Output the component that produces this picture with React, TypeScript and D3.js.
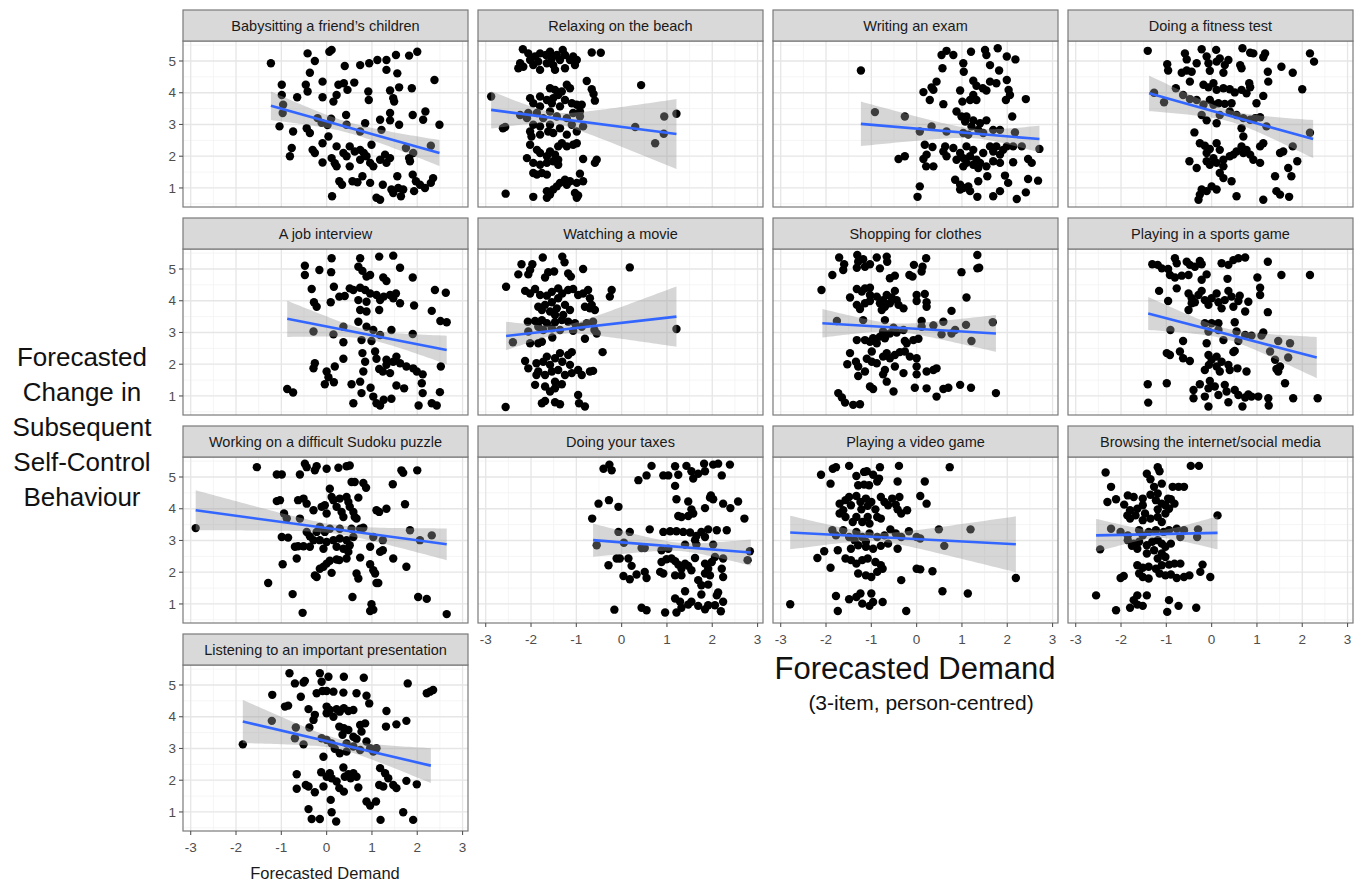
import React from "react"
import * as d3 from "d3"

const width = 1361
const height = 884

const titles = [
  "Babysitting a friend’s children",
  "Relaxing on the beach",
  "Writing an exam",
  "Doing a fitness test",
  "A job interview",
  "Watching a movie",
  "Shopping for clothes",
  "Playing in a sports game",
  "Working on a difficult Sudoku puzzle",
  "Doing your taxes",
  "Playing a video game",
  "Browsing the internet/social media",
  "Listening to an important presentation",
]

type Pt = [number, number]

const babysitting: Pt[] = [[-1.23,4.93],[-0.99,4.25],[-0.99,3.93],[-0.96,3.62],[-0.97,3.36],[-1.04,2.94],[-0.74,2.78],[-0.65,3.86],[-0.77,2.26],[-0.81,2.0],[-0.46,4.25],[-0.42,4.04],[-0.37,4.63],[-0.42,5.24],[-0.26,5.0],[-0.09,4.35],[-0.09,3.86],[-0.44,2.88],[-0.37,2.73],[-0.11,3.05],[-0.2,3.2],[0.02,2.98],[0.1,3.18],[-0.31,2.2],[-0.26,2.1],[-0.09,1.8],[-0.09,2.41],[0.04,2.62],[0.06,5.29],[0.11,5.35],[0.15,3.72],[0.22,3.93],[0.26,4.25],[0.38,4.3],[0.46,4.09],[0.61,4.32],[0.4,4.84],[0.74,4.87],[0.94,4.93],[1.12,5.03],[1.32,5.03],[1.53,5.19],[1.82,5.17],[2.0,5.29],[1.32,4.72],[1.56,4.61],[1.4,4.07],[1.6,4.17],[1.47,3.83],[1.49,3.72],[1.88,4.14],[0.92,4.04],[0.93,3.77],[0.43,3.3],[0.44,2.99],[0.74,2.78],[0.85,3.04],[1.18,3.15],[1.21,2.83],[1.4,3.36],[1.4,3.13],[1.6,2.99],[1.9,3.3],[2.13,3.15],[2.18,3.41],[2.49,2.99],[2.38,4.4],[2.3,2.33],[1.75,2.26],[1.91,2.1],[1.82,1.94],[1.84,1.84],[0.99,2.36],[0.22,2.31],[0.37,2.1],[0.44,2.0],[0.51,2.31],[0.62,2.15],[0.74,2.2],[0.82,2.1],[0.74,1.89],[0.88,2.0],[0.96,1.79],[1.03,1.68],[1.18,1.89],[1.29,2.05],[1.4,1.94],[1.32,1.79],[0.11,1.94],[0.18,1.78],[0.22,1.68],[0.51,1.68],[0.28,1.21],[0.34,1.1],[0.57,1.21],[0.68,1.18],[0.79,1.37],[0.96,1.16],[1.24,1.1],[1.43,0.95],[1.47,0.84],[1.58,1.0],[1.69,0.95],[1.64,0.74],[1.56,1.37],[1.9,1.42],[1.97,1.21],[2.06,1.1],[2.17,1.0],[1.93,0.9],[2.35,1.31],[2.3,1.16],[0.12,0.74],[1.1,0.69],[1.18,0.63]]

const beach: Pt[] = [[-2.24,4.93],[-2.28,4.77],[-2.17,4.82],[-2.02,5.03],[-2.06,5.24],[-1.91,5.14],[-1.95,4.87],[-1.80,4.72],[-1.84,4.98],[-1.67,5.19],[-1.65,4.93],[-1.54,5.08],[-1.51,4.87],[-1.43,5.19],[-1.36,5.03],[-1.30,5.35],[-1.25,5.19],[-1.25,4.77],[-1.14,5.03],[-1.07,5.14],[-1.03,4.87],[-0.99,5.03],[-1.47,4.72],[-1.58,5.29],[-1.80,5.24],[-2.88,3.88],[-2.57,2.92],[-2.62,2.88],[-2.56,0.82],[-2.18,5.37],[-0.66,5.27],[-0.46,5.26],[0.43,4.24],[-0.77,4.37],[-0.66,4.11],[-0.62,3.96],[-0.59,3.75],[-1.58,4.14],[-1.47,4.09],[-1.40,3.93],[-1.32,4.04],[-1.21,4.25],[-1.14,4.14],[-1.51,3.83],[-1.65,3.77],[-1.80,3.88],[-2.02,3.83],[-1.95,3.67],[-1.80,3.57],[-1.54,3.67],[-1.36,3.57],[-1.25,3.77],[-1.10,3.67],[-0.99,3.62],[-0.88,3.62],[-0.92,3.41],[-1.07,3.36],[-1.21,3.2],[-1.43,3.25],[-1.58,3.41],[-1.73,3.2],[-1.87,3.36],[-2.06,3.36],[-2.24,3.3],[-2.09,3.2],[-0.92,3.25],[-0.85,2.94],[-0.99,2.78],[-1.10,2.99],[-1.21,2.68],[-1.36,2.88],[-1.58,2.99],[-1.80,2.94],[-1.95,2.99],[-2.02,2.78],[-1.99,2.62],[-1.80,2.68],[-1.62,2.78],[-1.51,2.73],[-1.32,2.41],[-1.21,2.31],[-1.07,2.36],[-0.99,2.41],[-1.40,2.31],[-2.02,2.36],[-1.87,2.2],[-1.80,2.1],[-1.65,2.0],[-1.58,2.15],[-1.47,2.05],[-1.40,1.89],[-2.09,1.94],[-1.95,1.79],[-1.80,1.73],[-1.65,1.79],[-1.51,1.84],[-1.40,1.73],[-0.85,1.91],[-0.55,1.89],[-0.59,1.79],[0.94,3.25],[0.93,2.71],[0.74,2.41],[0.30,2.92],[1.21,3.34],[-1.95,1.47],[-1.87,1.42],[-1.76,1.47],[-1.65,1.42],[-0.92,1.45],[-0.85,1.21],[-0.99,1.16],[-1.14,1.21],[-1.25,1.26],[-1.36,1.16],[-1.43,1.05],[-1.51,0.95],[-1.65,0.9],[-1.58,0.79],[-1.65,0.69],[-1.95,0.72],[-1.21,1.1],[-1.03,0.84],[-0.99,0.69],[-0.96,0.76]]

const exam: Pt[] = [[-1.23,4.70],[-0.92,3.39],[-0.26,3.25],[-0.40,1.91],[-0.26,2.0],[0.07,1.05],[0.02,0.72],[0.15,4.02],[0.29,3.77],[0.18,2.36],[0.21,1.68],[0.35,2.29],[0.22,2.05],[0.15,1.91],[0.37,1.68],[0.33,4.17],[0.44,4.35],[0.37,4.09],[0.55,5.19],[0.66,5.32],[0.81,5.19],[0.57,4.77],[1.03,4.93],[1.04,4.66],[0.96,4.07],[1.01,3.72],[0.59,3.64],[0.88,3.41],[0.99,3.25],[1.07,3.09],[1.20,5.29],[1.51,5.35],[1.54,5.19],[1.79,5.4],[1.99,5.14],[2.18,5.05],[1.62,4.87],[1.82,4.7],[1.25,4.38],[1.32,4.22],[1.46,4.14],[1.54,4.07],[1.62,4.35],[1.76,4.3],[1.99,4.4],[2.03,4.09],[1.97,3.77],[2.06,3.93],[2.41,3.80],[1.25,3.93],[1.32,3.77],[1.18,3.77],[1.10,3.25],[1.25,3.13],[1.40,3.04],[1.54,3.13],[1.21,2.94],[1.36,2.83],[1.69,2.83],[1.84,2.83],[2.17,2.75],[2.11,3.25],[1.14,2.68],[1.47,2.73],[0.07,2.78],[0.33,2.94],[0.66,2.78],[1.03,2.73],[2.32,2.31],[2.13,2.31],[0.63,2.31],[0.59,2.15],[0.66,2.0],[0.81,2.26],[0.96,2.1],[1.03,1.94],[0.88,1.89],[1.10,2.31],[1.25,2.2],[1.18,2.0],[1.32,1.89],[1.47,2.1],[1.62,2.31],[1.69,2.15],[1.76,2.31],[1.84,2.05],[1.91,2.2],[1.99,2.31],[2.71,2.23],[1.10,1.79],[1.03,1.68],[1.25,1.73],[1.40,1.79],[1.54,1.68],[1.69,1.84],[1.84,1.79],[2.13,1.81],[2.46,1.91],[2.54,1.79],[1.36,1.63],[0.85,1.26],[0.96,1.1],[1.03,1.0],[1.18,0.9],[1.36,1.21],[1.34,0.72],[1.56,1.37],[1.69,0.74],[1.84,0.9],[1.95,1.39],[2.02,1.16],[2.21,0.65],[2.41,0.86],[2.46,1.28],[2.68,1.23],[0.96,0.95],[1.14,1.05]]

const fitness: Pt[] = [[-1.41,5.32],[-1.27,4.0],[-1.05,3.7],[-0.79,4.14],[-0.63,3.93],[-0.48,3.80],[-0.33,3.77],[-0.98,4.9],[-0.96,4.7],[-0.66,4.63],[-0.55,4.7],[-0.44,4.66],[-0.48,4.35],[-0.59,5.24],[-0.55,5.05],[-0.33,4.93],[-0.22,5.37],[-0.11,5.14],[-0.07,4.93],[-0.04,4.69],[0.11,4.98],[0.10,5.35],[0.18,5.08],[0.29,4.87],[0.37,5.03],[0.26,4.63],[0.63,4.87],[0.66,4.77],[0.68,5.40],[0.85,5.26],[0.92,5.24],[1.18,5.24],[1.14,5.12],[1.24,4.66],[1.25,4.35],[1.54,4.82],[1.79,4.63],[2.17,5.24],[2.26,4.98],[2.0,4.11],[-0.18,4.25],[-0.07,4.17],[0.04,4.30],[0.11,4.09],[0.26,4.14],[0.40,4.11],[0.51,4.01],[0.66,4.09],[0.77,3.98],[0.83,4.30],[0.85,4.17],[1.14,3.90],[0.99,3.67],[0.44,3.67],[0.29,3.65],[0.15,3.67],[-0.04,3.77],[0.04,3.62],[-0.18,3.62],[-0.22,3.30],[-0.11,3.13],[0.11,3.04],[0.18,3.30],[0.40,3.41],[0.55,3.30],[0.70,3.20],[0.85,3.15],[0.96,3.20],[1.07,3.23],[1.21,2.94],[0.66,2.88],[-0.38,2.75],[0.70,2.62],[0.66,2.31],[-0.26,2.41],[-0.15,2.33],[-0.11,2.10],[-0.04,2.23],[0.11,2.41],[0.18,2.20],[0.26,1.89],[0.04,1.94],[-0.11,1.84],[-0.04,1.73],[0.11,1.79],[0.26,1.68],[0.40,2.0],[0.48,2.05],[0.55,2.15],[0.70,2.10],[0.77,2.20],[0.85,2.05],[0.92,1.89],[1.07,1.79],[1.07,2.31],[1.14,2.41],[1.51,2.10],[1.58,2.15],[1.79,2.31],[1.89,1.84],[1.69,1.63],[1.76,1.37],[1.40,1.37],[-0.49,1.84],[-0.33,1.63],[0.18,1.47],[0.26,1.31],[0.44,1.21],[0.55,0.74],[1.14,0.63],[1.43,0.90],[1.51,0.79],[1.71,0.72],[0.0,1.05],[-0.11,0.90],[-0.22,0.95],[-0.26,0.79],[-0.29,0.63],[0.11,0.95],[2.17,2.74]]

const jobInterview: Pt[] = [[-0.87,1.22],[-0.74,1.11],[-0.48,5.10],[-0.48,4.81],[-0.16,4.97],[0.11,5.34],[0.10,4.90],[-0.33,4.37],[-0.28,3.95],[-0.22,3.81],[0.09,3.95],[0.16,4.44],[0.28,4.13],[0.40,4.15],[0.51,4.39],[0.59,4.34],[0.74,5.34],[0.70,5.07],[0.79,4.94],[0.88,4.76],[0.96,4.81],[1.16,5.39],[1.47,5.42],[1.62,5.04],[1.25,4.73],[1.32,4.62],[1.90,4.73],[0.74,4.41],[0.85,4.34],[0.96,4.23],[1.10,4.18],[1.18,4.02],[1.26,4.13],[1.40,4.18],[1.53,4.23],[1.62,3.92],[1.47,4.08],[0.74,3.71],[0.88,3.66],[1.16,3.71],[0.70,4.02],[0.88,3.97],[1.93,3.85],[2.32,3.68],[2.39,4.34],[2.63,4.25],[2.51,3.36],[2.65,3.32],[-0.29,3.03],[0.15,2.94],[0.37,3.18],[0.70,3.34],[0.88,3.18],[1.03,3.08],[1.18,2.92],[1.43,3.08],[1.90,2.95],[0.77,2.76],[0.99,2.73],[0.37,2.69],[-0.26,2.03],[-0.29,1.87],[0.0,1.77],[0.04,1.59],[0.18,1.93],[0.37,2.17],[-0.04,1.37],[0.16,1.43],[0.55,1.37],[0.74,1.45],[0.77,1.09],[0.59,0.77],[0.97,1.26],[0.79,2.35],[0.85,2.08],[0.81,1.77],[1.07,2.40],[1.10,2.17],[1.16,1.85],[1.24,1.77],[1.32,2.14],[1.32,1.98],[1.40,1.72],[1.47,2.08],[1.54,2.24],[1.62,2.03],[1.76,1.93],[1.91,1.87],[1.99,1.77],[2.12,1.68],[2.10,1.40],[1.54,1.33],[1.71,1.24],[1.03,0.98],[1.10,0.77],[1.18,0.70],[1.26,0.88],[1.43,0.91],[2.12,1.09],[2.03,0.70],[2.32,0.77],[2.43,0.70],[2.50,1.12],[2.52,1.93]]

const movie: Pt[] = [[-2.55,4.44],[-2.56,0.65],[-2.40,2.69],[-2.21,5.15],[-1.97,5.15],[-2.28,4.83],[-2.06,4.83],[-2.02,4.97],[-1.74,5.36],[-1.31,5.39],[-1.26,5.21],[-1.62,4.90],[-1.49,4.92],[-1.69,4.73],[-1.18,4.86],[-1.12,4.76],[-0.85,5.0],[0.18,5.05],[-2.13,4.31],[-2.02,4.23],[-1.91,4.37],[-1.80,4.18],[-1.65,4.16],[-1.54,4.28],[-1.40,4.39],[-1.31,4.23],[-1.18,4.34],[-1.07,4.37],[-1.40,4.08],[-1.54,3.95],[-1.69,3.87],[-1.84,3.81],[-1.76,3.71],[-1.58,3.66],[-1.43,3.76],[-1.25,3.87],[-1.14,3.71],[-1.29,3.55],[-1.47,3.55],[-0.96,4.18],[-0.85,4.23],[-0.74,4.34],[-0.70,4.08],[-0.66,3.87],[-0.70,3.76],[-0.59,3.71],[-0.26,4.13],[-0.22,4.34],[-0.81,3.81],[-2.07,3.34],[-1.91,3.36],[-1.76,3.39],[-1.65,3.29],[-1.47,3.32],[-1.32,3.39],[-1.18,3.34],[-1.03,3.29],[-2.06,3.03],[-1.84,3.18],[-1.73,3.08],[-1.54,3.13],[-1.36,3.08],[-1.07,3.05],[-0.88,3.18],[-0.77,3.29],[-0.63,3.34],[-0.60,3.08],[-0.55,2.97],[-2.02,2.66],[-1.84,2.66],[-1.76,2.71],[-1.53,2.84],[-0.81,2.80],[-0.42,2.38],[-2.13,2.10],[-2.06,1.87],[-1.88,2.03],[-1.73,2.08],[-1.65,2.24],[-1.58,1.98],[-1.47,2.19],[-1.36,2.35],[-1.31,2.08],[-1.18,2.29],[-1.10,2.38],[-1.14,1.98],[-1.40,1.82],[-1.54,1.77],[-1.69,1.66],[-1.88,1.66],[-1.84,1.77],[-1.25,1.66],[-1.10,1.72],[-0.96,1.82],[-0.88,1.66],[-0.70,1.77],[-0.63,1.79],[-1.91,1.35],[-1.69,1.30],[-1.47,1.24],[-1.32,1.37],[-1.58,1.14],[-1.69,0.84],[-1.47,0.80],[-1.36,0.74],[-1.76,0.77],[-0.96,1.03],[-0.94,0.77],[-0.81,0.67],[-1.47,1.45],[1.21,3.11]]

const shopping: Pt[] = [[-2.10,4.34],[-1.86,4.81],[-1.76,3.36],[-1.71,5.36],[-1.60,5.15],[-1.62,4.97],[-1.31,5.44],[-1.29,5.23],[-1.32,5.04],[-1.18,5.31],[-1.14,5.07],[-1.03,5.15],[-0.88,5.36],[-0.81,5.02],[-0.66,5.39],[-0.65,5.23],[-0.59,4.71],[-0.48,4.79],[-0.16,4.81],[-0.09,4.76],[-0.06,5.13],[0.13,5.07],[0.11,4.92],[0.21,5.34],[0.99,4.90],[1.34,5.44],[1.34,5.02],[1.38,5.04],[-1.47,4.10],[-1.32,4.37],[-1.21,4.29],[-1.14,4.39],[-1.03,4.41],[-1.03,4.18],[-1.32,3.87],[-1.25,3.74],[-1.14,3.92],[-1.03,3.99],[-0.88,4.13],[-0.74,4.02],[-0.66,4.18],[-0.59,3.92],[-0.55,4.10],[-0.48,4.31],[-0.44,4.02],[-0.40,3.87],[-0.29,3.76],[-0.70,3.81],[-0.77,3.71],[-0.81,3.92],[0.0,4.18],[0.0,3.99],[0.18,4.21],[0.22,3.95],[0.22,3.81],[0.77,3.68],[1.10,4.10],[-1.18,3.39],[-0.70,3.39],[-0.51,3.15],[-0.74,3.03],[-0.59,2.97],[-0.44,3.0],[-0.29,3.08],[0.11,3.36],[0.11,3.18],[0.37,3.22],[0.59,3.34],[0.55,2.94],[0.77,2.97],[0.85,3.08],[1.09,3.24],[1.21,2.73],[1.68,3.32],[-1.14,2.76],[-1.32,2.76],[-1.03,2.71],[-0.96,2.82],[-0.88,2.66],[-0.81,2.87],[-0.70,2.82],[-0.26,2.73],[-0.22,2.66],[-0.07,2.76],[0.04,2.80],[-0.99,2.40],[-1.47,2.35],[-1.53,2.0],[-1.34,2.08],[-1.29,1.93],[-1.10,2.17],[-0.99,2.08],[-0.88,2.03],[-0.74,2.24],[-0.66,2.35],[-0.59,2.19],[-0.48,2.29],[-0.37,2.38],[-0.26,2.40],[-0.15,2.24],[-0.48,1.93],[-0.70,1.82],[-0.74,1.68],[-1.14,1.77],[-1.29,1.63],[-0.29,1.72],[0.0,2.19],[0.0,1.93],[0.0,1.68],[0.22,1.77],[0.37,1.82],[0.44,1.87],[-0.66,1.45],[-1.03,1.30],[-0.96,1.22],[-0.51,1.14],[-0.04,1.26],[0.22,1.24],[0.44,0.98],[0.59,1.22],[0.70,1.26],[0.96,1.35],[1.20,1.26],[1.75,1.09],[-1.73,1.09],[-1.65,0.95],[-1.58,0.79],[-1.40,0.72],[-1.25,0.74]]

const sportsGame: Pt[] = [[-1.41,1.37],[-1.40,0.79],[-0.99,1.40],[-1.16,4.31],[-0.96,3.99],[-0.91,3.08],[-1.31,5.15],[-1.19,5.13],[-1.10,5.02],[-0.96,5.0],[-0.92,4.81],[-0.81,5.34],[-0.77,5.18],[-0.81,4.73],[-0.66,4.79],[-0.55,5.23],[-0.48,5.13],[-0.51,4.81],[-0.37,5.07],[-0.26,5.25],[-0.22,5.15],[-0.22,4.66],[-0.11,4.83],[0.22,5.18],[0.37,5.13],[0.48,5.28],[0.59,5.34],[0.74,5.36],[0.35,4.69],[1.01,4.73],[1.24,5.23],[1.54,4.81],[2.17,4.81],[-0.77,4.39],[-0.51,4.23],[-0.44,4.08],[-0.37,3.95],[-0.29,4.18],[-0.22,4.31],[-0.15,4.02],[-0.07,3.87],[0.0,4.08],[0.11,4.23],[0.15,3.95],[0.22,3.76],[0.29,4.02],[0.37,4.31],[0.44,4.13],[0.48,3.81],[0.59,3.99],[0.62,4.16],[0.74,3.66],[0.81,3.97],[1.07,4.41],[1.07,4.18],[1.24,3.64],[-0.51,3.71],[-0.44,3.92],[-0.15,3.29],[0.0,3.29],[0.15,3.29],[-0.07,3.03],[0.15,3.08],[0.26,2.76],[0.51,3.32],[0.55,3.03],[0.59,2.73],[0.74,2.92],[0.88,2.90],[1.14,3.0],[1.10,2.90],[1.47,2.73],[1.73,2.66],[1.29,2.40],[1.69,2.21],[1.40,2.14],[-0.63,2.73],[-0.11,2.66],[-0.99,2.35],[-0.92,2.29],[-0.70,2.40],[-0.63,2.19],[-0.48,2.10],[-0.07,2.29],[0.0,2.14],[0.11,2.24],[0.22,2.08],[-0.06,1.98],[-0.15,1.82],[0.11,1.93],[0.18,1.77],[0.37,1.98],[0.40,1.82],[0.51,2.42],[0.57,1.87],[0.77,1.77],[0.48,2.38],[1.43,1.85],[1.51,1.93],[1.47,1.77],[1.62,1.40],[-0.40,1.19],[-0.40,0.93],[-0.26,1.37],[-0.15,0.98],[-0.07,1.24],[-0.04,1.47],[0.07,1.30],[0.15,1.03],[0.29,1.35],[0.33,1.14],[0.51,1.19],[0.59,1.03],[0.74,0.95],[0.81,1.05],[0.88,0.98],[1.03,0.98],[1.25,0.93],[1.26,0.70],[0.37,0.80],[-0.07,0.67],[0.68,0.67],[1.80,0.93],[2.34,0.93]]

const sudoku: Pt[] = [[-2.89,3.39],[-1.54,5.31],[-1.29,1.66],[-1.10,5.08],[-0.99,5.08],[-1.03,4.27],[-1.10,4.24],[-0.94,3.85],[-0.99,3.11],[-0.85,3.09],[-0.97,2.25],[-0.75,1.31],[-0.53,0.72],[-0.66,2.43],[-0.59,5.08],[-0.48,5.42],[-0.44,5.31],[-0.26,5.21],[-0.22,5.34],[0.0,5.26],[0.26,5.29],[0.44,5.34],[0.51,5.36],[0.55,4.84],[0.62,4.84],[0.81,4.81],[0.87,4.66],[1.46,4.77],[1.65,5.21],[1.69,5.13],[2.0,5.21],[1.73,4.14],[1.76,2.17],[1.32,4.0],[1.16,3.90],[1.47,2.43],[2.02,1.22],[2.21,1.16],[2.65,0.68],[0.57,1.22],[0.99,0.99],[0.96,0.78],[1.03,0.82],[1.10,1.66],[1.14,1.66],[1.24,2.69],[1.18,2.64],[0.96,2.25],[1.03,2.06],[1.07,1.96],[0.96,2.80],[0.74,2.46],[0.66,1.96],[0.70,1.80],[0.48,2.64],[0.44,2.43],[0.11,1.98],[0.0,2.27],[-0.15,2.11],[-0.26,1.90],[-0.22,1.85],[-0.07,2.17],[0.07,2.36],[0.22,2.40],[0.28,2.38],[-0.88,3.69],[-0.63,4.27],[-0.51,4.32],[-0.44,4.16],[-0.29,3.95],[-0.59,3.69],[-0.70,2.80],[-0.63,2.82],[-0.51,2.82],[-0.44,3.27],[-0.37,3.13],[-0.29,3.01],[-0.22,3.27],[-0.15,3.43],[-0.11,4.06],[-0.04,4.11],[0.0,3.85],[0.07,4.63],[0.11,4.37],[0.15,4.27],[0.22,4.06],[0.29,4.32],[0.33,3.90],[0.37,3.74],[0.44,4.37],[0.48,4.21],[0.51,4.06],[0.59,3.90],[0.62,3.74],[0.66,3.69],[0.70,4.35],[0.74,3.37],[0.81,3.40],[0.55,3.37],[0.29,3.37],[0.07,3.37],[-0.04,3.27],[-0.15,3.01],[0.0,2.95],[0.15,3.01],[0.29,3.06],[0.44,3.01],[0.59,3.11],[0.22,2.80],[0.37,2.74],[0.51,2.85],[-0.07,2.74],[-0.37,2.80],[1.03,3.11],[1.10,3.95],[1.24,3.01],[1.84,3.32],[2.06,3.01],[2.32,3.16]]

const taxes: Pt[] = [[-0.65,3.69],[-0.51,4.16],[-0.28,4.27],[-0.07,4.06],[-0.40,5.26],[-0.27,5.39],[-0.22,5.21],[-0.55,2.85],[-0.07,3.27],[0.18,3.27],[0.05,2.93],[-0.29,2.22],[-0.11,2.43],[-0.04,2.43],[0.15,2.43],[0.22,2.20],[0.04,1.88],[0.18,1.78],[0.33,1.93],[0.55,1.82],[0.51,2.01],[-0.16,0.82],[0.44,0.88],[0.55,0.80],[0.96,0.73],[1.21,0.73],[1.32,0.88],[1.47,0.98],[1.54,1.07],[1.69,0.94],[1.84,0.83],[1.91,0.96],[2.06,0.96],[2.19,0.77],[2.24,1.07],[2.10,1.27],[2.13,1.36],[1.76,1.30],[1.40,1.40],[1.18,1.17],[1.29,1.07],[0.37,4.90],[0.55,5.05],[0.66,5.35],[0.92,5.05],[1.03,5.05],[1.18,5.34],[1.25,5.07],[1.18,4.72],[1.43,5.35],[1.54,5.18],[1.58,4.95],[1.69,5.10],[1.82,5.42],[1.84,5.18],[2.02,5.39],[2.13,5.42],[2.21,5.05],[2.39,5.39],[1.21,4.30],[1.47,4.23],[1.54,3.98],[1.58,3.85],[1.47,3.77],[1.25,3.77],[1.32,3.74],[1.84,4.02],[1.97,4.42],[2.02,4.30],[2.24,4.16],[2.40,4.02],[2.57,4.23],[2.71,3.69],[1.95,4.35],[0.62,3.35],[0.92,3.27],[1.07,3.29],[1.21,3.29],[1.36,3.27],[1.51,3.25],[1.65,3.14],[1.76,3.27],[1.91,3.35],[2.10,3.32],[2.32,3.32],[1.62,3.01],[1.84,3.11],[1.40,2.87],[1.65,2.87],[2.02,2.87],[0.44,2.76],[0.51,2.76],[0.88,2.69],[1.03,2.74],[2.83,2.66],[2.78,2.38],[2.06,2.48],[2.24,2.43],[1.62,2.45],[0.88,2.32],[0.99,2.41],[1.10,2.43],[1.18,2.35],[1.25,2.24],[1.32,2.11],[1.40,2.27],[1.47,2.20],[1.54,2.06],[1.32,1.90],[0.85,2.01],[0.92,1.96],[1.18,1.90],[1.84,2.27],[1.91,2.11],[1.99,2.32],[1.84,1.96],[1.95,1.90],[2.21,2.11],[2.24,1.85],[1.69,1.75],[1.76,1.59],[1.91,1.61]]

const videoGame: Pt[] = [[-2.79,0.99],[-2.19,2.45],[-2.04,2.66],[-1.90,2.14],[-2.11,5.07],[-1.90,4.79],[-1.85,5.26],[-1.78,5.31],[-1.49,5.35],[-1.33,5.03],[-1.16,5.16],[-1.10,5.18],[-0.96,5.07],[-0.83,4.95],[-0.87,4.86],[-0.81,5.31],[-1.29,4.74],[-1.16,4.76],[-1.05,4.74],[-0.39,5.35],[-0.42,4.86],[0.18,4.86],[0.73,5.31],[0.08,4.40],[0.22,4.16],[-0.38,4.37],[-0.21,3.95],[-1.70,4.16],[-1.57,4.27],[-1.62,3.95],[-1.49,4.37],[-1.45,4.11],[-1.33,4.40],[-1.24,4.21],[-1.22,3.98],[-1.12,4.32],[-1.08,4.09],[-1.0,4.21],[-0.91,3.98],[-0.79,4.37],[-0.71,4.21],[-0.63,4.11],[-0.54,4.32],[-0.46,4.13],[-0.42,3.98],[-0.34,3.85],[-0.87,3.74],[-1.08,3.74],[-1.33,3.74],[-1.57,3.74],[-1.70,3.85],[-1.41,3.58],[-1.20,3.58],[-1.04,3.53],[-0.79,3.69],[-1.86,3.32],[-1.78,3.16],[-1.62,3.32],[-1.49,3.11],[-1.33,3.27],[-1.20,3.11],[-1.04,3.22],[-0.87,3.11],[-0.71,3.16],[-0.58,3.35],[-0.46,3.22],[-0.34,3.11],[-0.17,3.29],[0.0,3.11],[0.08,3.06],[0.49,3.35],[1.19,3.35],[0.61,2.83],[-1.37,3.01],[-1.12,2.96],[-1.74,2.69],[-1.45,2.74],[-1.29,2.85],[-1.12,2.80],[-0.96,2.74],[-0.79,2.83],[-0.63,2.90],[-0.42,2.74],[-1.57,2.43],[-1.45,2.38],[-1.33,2.27],[-1.20,2.38],[-1.08,2.43],[-0.91,2.32],[-0.79,2.22],[-1.29,1.96],[-1.12,1.90],[-1.0,1.85],[-0.87,2.01],[-0.75,2.11],[-0.34,1.75],[0.0,2.11],[0.08,2.09],[0.35,2.03],[-1.78,1.25],[-1.49,1.15],[-1.33,1.22],[-1.24,1.33],[-1.20,1.01],[-1.0,1.33],[-0.96,1.06],[-1.04,0.94],[-0.75,1.06],[-1.74,0.78],[-0.23,0.78],[0.57,1.40],[1.13,1.33],[2.19,1.82]]

const browsing: Pt[] = [[-2.55,1.27],[-2.46,2.72],[-2.34,5.14],[-2.22,4.69],[-2.30,4.21],[-2.11,4.30],[-1.85,4.42],[-1.72,4.37],[-1.93,4.13],[-1.80,3.95],[-1.64,4.0],[-1.86,3.79],[-1.80,3.69],[-1.68,3.79],[-1.52,4.11],[-1.47,3.85],[-1.43,5.10],[-1.35,4.93],[-1.27,4.69],[-1.35,4.44],[-1.19,4.48],[-1.23,4.27],[-1.52,4.32],[-1.10,4.16],[-1.19,3.98],[-1.02,4.11],[-0.90,4.30],[-0.82,4.16],[-1.02,3.85],[-1.19,3.74],[-1.35,3.69],[-1.52,3.64],[-1.10,3.58],[-1.19,5.31],[-1.15,5.18],[-1.10,4.79],[-0.86,4.69],[-0.73,4.69],[-0.61,4.69],[-0.46,5.35],[-0.28,5.35],[-0.96,4.32],[-0.94,4.0],[-2.22,3.37],[-2.01,3.27],[-1.85,3.16],[-1.60,3.32],[-1.52,3.16],[-1.39,3.27],[-1.23,3.32],[-1.06,3.27],[-0.94,3.32],[-0.77,3.37],[-0.61,3.32],[-0.69,3.11],[-0.32,3.11],[-0.30,3.35],[0.13,3.79],[-1.85,3.01],[-1.72,2.90],[-1.60,2.96],[-1.43,2.85],[-1.31,2.96],[-1.19,3.01],[-1.10,2.90],[-1.02,2.80],[-0.90,2.90],[-1.27,2.69],[-1.10,2.59],[-1.43,2.59],[-1.64,2.74],[-1.76,2.83],[-1.19,2.43],[-1.02,2.48],[-1.64,2.22],[-1.52,2.14],[-1.39,2.17],[-1.23,2.11],[-1.10,2.22],[-0.94,2.24],[-0.82,2.27],[-0.69,2.27],[-0.20,2.24],[-0.25,2.01],[-1.60,1.96],[-1.52,1.85],[-1.39,1.80],[-1.15,1.96],[-1.02,1.90],[-0.90,1.93],[-0.77,1.82],[-0.61,1.85],[-0.49,1.90],[-0.03,1.85],[-2.01,1.82],[-1.94,1.88],[-1.64,1.27],[-1.43,1.27],[-1.72,1.12],[-1.80,0.88],[-1.64,0.98],[-1.52,0.94],[-2.11,0.80],[-0.94,1.12],[-0.73,0.94],[-0.98,0.75],[-0.34,0.88]]

const presentation: Pt[] = [[-1.85,3.13],[-1.20,4.69],[-1.21,3.87],[-0.92,4.32],[-0.85,4.35],[-0.82,5.37],[-0.70,5.05],[-0.51,5.08],[-0.48,5.13],[-0.57,4.63],[-0.68,3.66],[-0.70,3.32],[-0.51,3.13],[-0.40,4.24],[-0.29,3.90],[-0.26,4.06],[-0.38,3.66],[-0.22,4.74],[-0.15,5.37],[-0.11,5.10],[-0.09,4.81],[0.0,4.81],[0.04,5.26],[0.15,4.79],[0.37,4.76],[0.38,5.26],[0.66,4.74],[0.82,5.23],[0.88,4.66],[0.94,4.42],[1.32,4.18],[1.54,3.76],[1.76,3.87],[1.31,3.69],[1.79,5.05],[2.21,4.74],[2.28,4.79],[2.35,4.84],[0.0,4.32],[0.07,4.21],[0.22,4.24],[0.29,4.16],[0.38,4.27],[0.48,4.18],[0.59,4.21],[0.0,4.11],[0.15,4.0],[0.28,3.69],[0.38,3.64],[0.35,3.43],[0.48,3.58],[0.59,3.37],[0.66,3.30],[0.74,3.74],[0.77,3.53],[0.85,3.79],[0.88,3.22],[0.96,3.01],[1.03,2.90],[1.10,3.01],[0.74,2.95],[0.59,3.06],[0.44,2.90],[0.29,2.85],[0.18,2.99],[0.0,3.27],[-0.11,3.32],[0.11,3.16],[-0.07,2.74],[0.44,3.16],[-0.66,2.19],[-0.46,1.85],[-0.66,1.73],[-0.40,1.80],[-0.26,1.62],[-0.12,2.25],[-0.07,1.80],[0.0,2.11],[0.07,2.22],[0.11,2.06],[0.22,1.96],[0.28,1.75],[0.37,2.40],[0.40,2.11],[0.48,2.19],[0.53,2.06],[0.59,2.22],[0.66,2.11],[0.70,1.77],[0.38,1.64],[0.09,1.38],[0.11,0.99],[0.21,0.70],[-0.40,1.09],[-0.33,0.78],[-0.15,0.78],[0.88,1.33],[0.96,1.20],[1.09,1.33],[1.19,0.75],[1.69,0.99],[1.91,0.75],[1.18,2.38],[1.29,2.22],[1.36,2.06],[1.47,1.85],[1.54,1.75],[1.76,1.98],[1.99,1.87],[1.25,1.80],[1.16,1.85]]

const panelPoints = [babysitting, beach, exam, fitness, jobInterview, movie, shopping, sportsGame, sudoku, taxes, videoGame, browsing, presentation]

// fitted line: [xStart, xEnd, yStart, yEnd, halfWidthStart, halfWidthMin, xAtMin, halfWidthEnd]
const fits = [
  [-1.23, 2.49, 3.59, 2.10, 0.45, 0.17, 0.5, 0.41],
  [-2.88, 1.21, 3.46, 2.70, 0.59, 0.18, -1.5, 1.10],
  [-1.23, 2.71, 3.02, 2.54, 0.70, 0.15, 1.3, 0.42],
  [-1.38, 2.24, 3.98, 2.54, 0.56, 0.18, 0.4, 0.60],
  [-0.87, 2.65, 3.43, 2.45, 0.57, 0.15, 0.9, 0.45],
  [-2.55, 1.21, 2.89, 3.50, 0.45, 0.13, -1.3, 0.95],
  [-2.08, 1.75, 3.29, 2.97, 0.45, 0.13, -0.5, 0.58],
  [-1.40, 2.32, 3.60, 2.21, 0.52, 0.17, 0.3, 0.65],
  [-2.89, 2.65, 3.95, 2.88, 0.63, 0.14, 0.2, 0.50],
  [-0.63, 2.85, 3.01, 2.62, 0.52, 0.13, 1.3, 0.41],
  [-2.79, 2.19, 3.25, 2.88, 0.53, 0.13, -0.9, 0.88],
  [-2.55, 0.13, 3.16, 3.24, 0.52, 0.12, -1.2, 0.52],
  [-1.85, 2.30, 3.85, 2.46, 0.68, 0.16, 0.3, 0.55],
]

const xTicks = [-3, -2, -1, 0, 1, 2, 3]
const xMinor = [-2.5, -1.5, -0.5, 0.5, 1.5, 2.5]
const yTicks = [1, 2, 3, 4, 5]
const yMinor = [0.5, 1.5, 2.5, 3.5, 4.5, 5.5]

const font = "'Liberation Sans', Arial, Helvetica, sans-serif"
const panelW = 285
const stripH = 31
const plotH = 166
const nCols = 4

function Panel({ i }: { i: number }) {
  const col = i % nCols
  const row = Math.floor(i / nCols)
  const left = 183 + col * 295
  const stripTop = 10 + row * 208
  const top = stripTop + stripH
  const bottom = top + plotH
  const showX = i + nCols >= titles.length
  const showY = col === 0

  const x = d3.scaleLinear().domain([-3.17, 3.12]).range([left, left + panelW])
  const y = d3.scaleLinear().domain([0.4, 5.63]).range([bottom, top])

  const [x0, x1, y0, y1, hw0, hwMin, xm, hw1] = fits[i]
  const fitY = (v: number) => y0 + ((y1 - y0) * (v - x0)) / (x1 - x0)
  const halfW = (v: number) => {
    const edgeX = v < xm ? x0 : x1
    const edgeW = v < xm ? hw0 : hw1
    const t = (v - xm) / (edgeX - xm)
    return Math.sqrt(hwMin * hwMin + (edgeW * edgeW - hwMin * hwMin) * t * t)
  }
  const xs = d3.range(0, 61).map((k) => x0 + ((x1 - x0) * k) / 60)
  const ribbon = d3.area<number>()
    .x((v) => x(v))
    .y0((v) => y(fitY(v) - halfW(v)))
    .y1((v) => y(fitY(v) + halfW(v)))(xs)
  const line = d3.line<number>().x((v) => x(v)).y((v) => y(fitY(v)))([x0, x1])

  return (
    <g>
      <rect x={left} y={top} width={panelW} height={plotH} fill="white" />
      {xMinor.map((t) => (
        <line key={"xm" + t} x1={x(t)} x2={x(t)} y1={top} y2={bottom} stroke="#f2f2f2" strokeWidth={0.8} />
      ))}
      {yMinor.map((t) => (
        <line key={"ym" + t} x1={left} x2={left + panelW} y1={y(t)} y2={y(t)} stroke="#f2f2f2" strokeWidth={0.8} />
      ))}
      {xTicks.map((t) => (
        <line key={"xg" + t} x1={x(t)} x2={x(t)} y1={top} y2={bottom} stroke="#e6e6e6" strokeWidth={1.3} />
      ))}
      {yTicks.map((t) => (
        <line key={"yg" + t} x1={left} x2={left + panelW} y1={y(t)} y2={y(t)} stroke="#e6e6e6" strokeWidth={1.3} />
      ))}
      {panelPoints[i].map((d, k) => (
        <circle key={k} cx={x(d[0])} cy={y(d[1])} r={4.2} fill="black" />
      ))}
      <path d={ribbon ?? ""} fill="#999999" fillOpacity={0.4} />
      <path d={line ?? ""} stroke="#3366FF" strokeWidth={2.6} fill="none" />
      <rect x={left} y={top} width={panelW} height={plotH} fill="none" stroke="#7a7a7a" strokeWidth={1.2} />
      <rect x={left} y={stripTop} width={panelW} height={stripH} fill="#d9d9d9" stroke="#7a7a7a" strokeWidth={1.2} />
      <text x={left + panelW / 2} y={stripTop + stripH / 2} dy="0.35em" textAnchor="middle" fontSize={14.5} fill="#1a1a1a" fontFamily={font}>
        {titles[i]}
      </text>
      {showY && yTicks.map((t) => (
        <g key={"yt" + t}>
          <line x1={left - 4} x2={left} y1={y(t)} y2={y(t)} stroke="#555" strokeWidth={1.1} />
          <text x={left - 7} y={y(t)} dy="0.35em" textAnchor="end" fontSize={13.5} fill="#4d4d4d" fontFamily={font}>{t}</text>
        </g>
      ))}
      {showX && xTicks.map((t) => (
        <g key={"xt" + t}>
          <line x1={x(t)} x2={x(t)} y1={bottom} y2={bottom + 4} stroke="#555" strokeWidth={1.1} />
          <text x={x(t)} y={bottom + 16} dy="0.35em" textAnchor="middle" fontSize={13.5} fill="#4d4d4d" fontFamily={font}>{t}</text>
        </g>
      ))}
    </g>
  )
}

const yLabelLines = ["Forecasted", "Change in", "Subsequent", "Self-Control", "Behaviour"]

function App() {
  return (
    <svg width={width} height={height} style={{ position: "absolute", left: 0, top: 0, background: "white" }}>
      <rect width={width} height={height} fill="white" />
      {titles.map((_, i) => (
        <Panel key={i} i={i} />
      ))}
      <text x={325} y={873} dy="0.35em" textAnchor="middle" fontSize={16.5} fill="#1a1a1a" fontFamily={font}>
        Forecasted Demand
      </text>
      {yLabelLines.map((s, k) => (
        <text key={s} x={82} y={357 + k * 35} dy="0.35em" textAnchor="middle" fontSize={26} fill="#111" fontFamily={font}>
          {s}
        </text>
      ))}
      <text x={915} y={668} dy="0.35em" textAnchor="middle" fontSize={31} fill="#111" fontFamily={font}>
        Forecasted Demand
      </text>
      <text x={921} y={703} dy="0.35em" textAnchor="middle" fontSize={21} fill="#111" fontFamily={font}>
        (3-item, person-centred)
      </text>
    </svg>
  )
}

export default App
